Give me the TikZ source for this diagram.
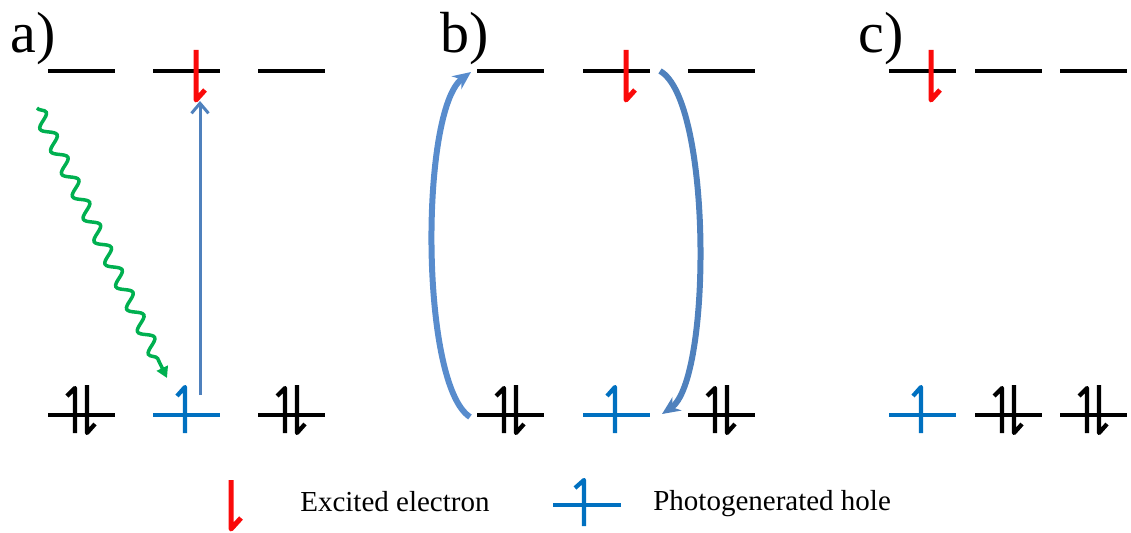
\documentclass[tikz,border=0pt]{standalone}
\usepackage{xcolor}
\usepackage{fontspec}
\setmainfont{Liberation Serif}
\usepackage{tikz}
\usetikzlibrary{arrows.meta,decorations.pathmorphing}
\definecolor{holeblue}{RGB}{0,112,192}
\definecolor{elecred}{RGB}{250,10,10}
\definecolor{wavegreen}{RGB}{0,176,80}
\definecolor{jumpblue}{RGB}{79,129,189}
\definecolor{loopblue}{RGB}{88,140,205}

\tikzset{
  level/.style={line width=0.08cm},
  spin/.style={line width=0.085cm, line join=round},
  elec/.style={spin, color=elecred, line width=0.1cm},
  panel/.style={anchor=base west, inner sep=0pt, font=\fontsize{33pt}{40pt}\selectfont},
  legendtext/.style={anchor=base west, inner sep=0pt, font=\fontsize{16.5pt}{20pt}\selectfont},
  wave/.style={color=wavegreen, line width=0.07cm, decorate,
    decoration={snake, amplitude=0.13cm, segment length=0.5cm, post length=0.25cm},
    -{Triangle[length=0.22cm,width=0.24cm]}},
  jump/.style={color=jumpblue, line width=0.06cm, -{Straight Barb[length=0.2cm,width=0.34cm]}},
  loopline/.style={color=#1, line width=0.12cm, -{Stealth[length=0.36cm,width=0.32cm]}}
}

\begin{document}
\begin{tikzpicture}[x=0.02cm, y=-0.02cm]
\useasboundingbox (0,0) rectangle (1131,533);
% panel labels
\node[panel] (pa) at (10,53) {a)};
\node[panel] (pb) at (440,53) {b)};
\node[panel] (pc) at (858,53) {c)};
% upper (empty) levels
\foreach \x in {48,153,258,477,583,688,889,975,1060}
  \draw[level] (\x,71) -- ++(67,0);
% lower levels with paired electrons
\foreach \x in {48,258,477,688,975,1060}{
  \draw[level] (\x,415) -- ++(67,0);
  \draw[spin] (\x+27,433) -- (\x+27,388) -- ++(-8,8);
  \draw[spin] (\x+39,385) -- (\x+39,433) -- ++(8,-9);
}
% lower levels with the hole
\foreach \x in {153,583,889}{
  \draw[level, color=holeblue] (\x,415) -- ++(67,0);
  \draw[spin, color=holeblue] (\x+32,433) -- (\x+32,387) -- ++(-8,9);
}
% excited electrons
\foreach \x in {196,626,931}
  \draw[elec] (\x,50) -- (\x,100) -- ++(9,-10);

% a) absorption and excitation
\coordinate (wa) at (37,108);
\coordinate (wb) at (167,378);
\draw[wave] (wa) -- (wb);
\coordinate (ha) at (200,395);
\coordinate (ea) at (200,101);
\draw[jump] (ha) -- (ea);

% b) transfer loops
\coordinate (lb) at (470,417);
\coordinate (lt) at (471,72);
\coordinate (rt) at (660,71);
\coordinate (rb) at (662,414);
\draw[loopline=loopblue] (lb) .. controls (420,385) and (420,110) .. (lt);
\draw[loopline=jumpblue] (rt) .. controls (712,100) and (712,380) .. (rb);

% legend
\draw[elec] (231,480) -- (231,529) -- ++(10,-11);
\node[legendtext] (lel) at (300,511) {Excited electron};
\draw[level, color=holeblue] (553,505) -- (621,505);
\draw[spin, color=holeblue] (584,526) -- (584,480) -- ++(-9,8);
\node[legendtext] (lho) at (653,510) {Photogenerated hole};
\end{tikzpicture}
\end{document}
